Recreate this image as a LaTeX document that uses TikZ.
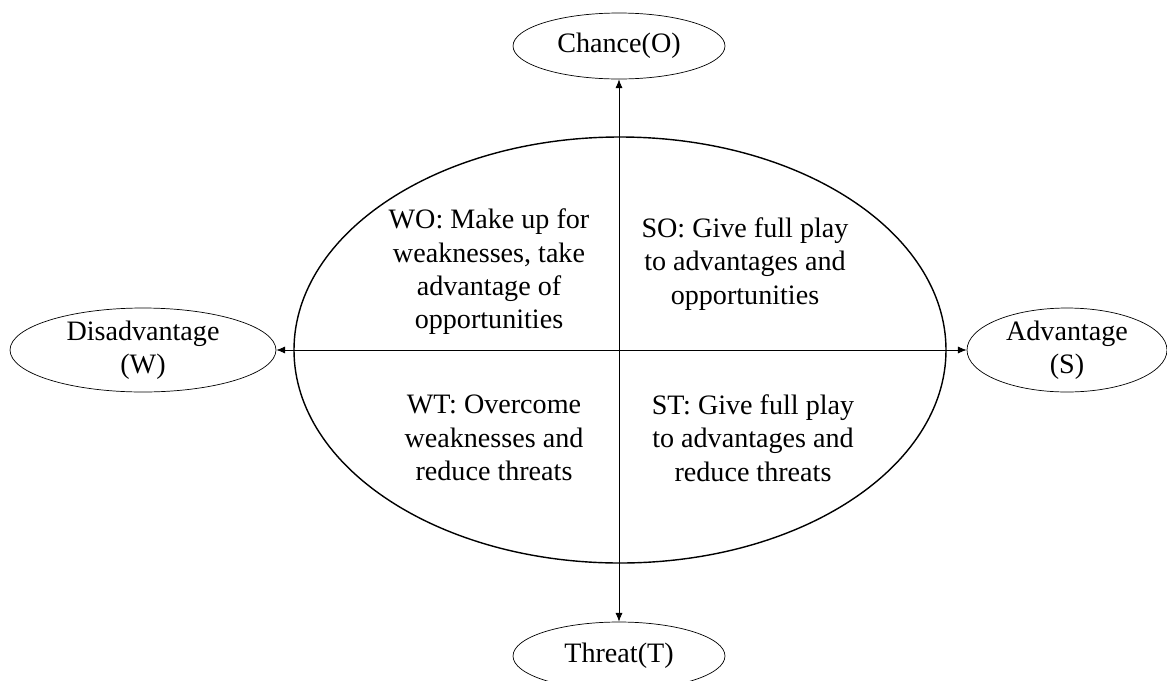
\documentclass[tikz,border=0pt]{standalone}
\usepackage{fontspec}
\setmainfont{Liberation Serif}
\usetikzlibrary{arrows.meta,shapes.geometric}

\begin{document}
\begin{tikzpicture}[x=0.02cm,y=-0.02cm,
  oval/.style={draw,ellipse,inner sep=0pt,align=center,font=\fontsize{16}{19}\selectfont},
  quad/.style={align=center,font=\fontsize{16}{19}\selectfont},
  link/.style={{Latex[length=5pt,width=4pt]}-{Latex[length=5pt,width=4pt]}}]
%\draw[help lines] (0,0) grid (1167,680);
\useasboundingbox (0,0) rectangle (1167,680);

\draw[thick] (620,350) ellipse [x radius=326,y radius=213];

\node[oval,minimum width=4.24cm,minimum height=1.32cm] (chance) at (619,46) {Chance(O)};
\node[oval,minimum width=4.24cm,minimum height=1.36cm] (threat) at (619,656) {Threat(T)};
\node[oval,minimum width=5.32cm,minimum height=1.68cm] (disadv) at (143,350) {Disadvantage\\(W)};
\node[oval,minimum width=4cm,minimum height=1.68cm] (adv) at (1067,350) {Advantage\\(S)};

\draw[link] (chance) -- (threat);
\draw[link] (disadv) -- (adv);

\node[quad] (wo) at (489,272) {WO: Make up for\\weaknesses, take\\advantage of\\opportunities};
\node[quad] (so) at (745,264) {SO: Give full play\\to advantages and\\opportunities};
\node[quad] (wt) at (494,438) {WT: Overcome\\weaknesses and\\reduce threats};
\node[quad] (st) at (753,438) {ST: Give full play\\to advantages and\\reduce threats};
\end{tikzpicture}
\end{document}
